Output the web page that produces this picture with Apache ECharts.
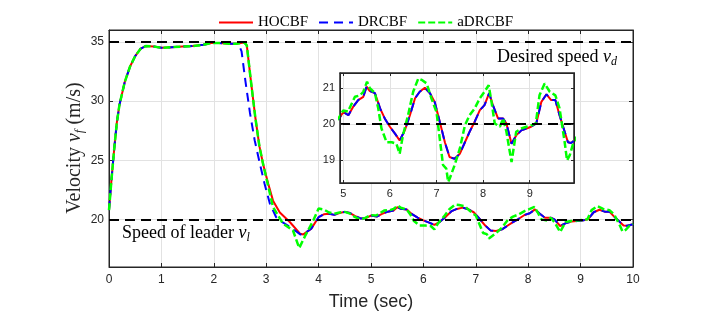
<!DOCTYPE html>
<html><head><meta charset="utf-8">
<script src="https://cdn.jsdelivr.net/npm/echarts@6/dist/echarts.min.js"></script>
<style>html,body{margin:0;padding:0;background:#fff}#c{width:718px;height:319px}</style>
</head><body><div id="c"></div>
<script>
// ---- data (time in s, velocity in m/s) ----
const seriesNames = ['HOCBF', 'DRCBF', 'aDRCBF'];
const desiredSpeed = 35;
const leaderSpeed = 20;
const mainXTicks = [0,1,2,3,4,5,6,7,8,9,10];
const mainYTicks = [20,25,30,35];
const insetXTicks = [5,6,7,8,9];
const insetYTicks = [19,20,21];

const hocbfStart = [[0,20.8],[0.05,23.5],[0.1,26.0],[0.15,28.2],[0.2,29.7],[0.3,31.6],[0.4,32.9],[0.5,33.8],[0.6,34.4],[0.7,34.65],[0.85,34.6],[1.0,34.5],[1.2,34.55],[1.4,34.6],[1.6,34.65],[1.8,34.75],[1.95,34.9],[2.1,34.9],[2.3,34.85]];
const hocbfDrop = [[2.45,34.85],[2.58,34.95],[2.63,34.7],[2.7,32.0],[2.79,28.7],[2.87,26.2],[2.94,24.7],[3.04,23.0],[3.13,21.6],[3.26,20.6],[3.45,19.8],[3.65,18.8],[3.71,18.75]];
const drcbfDrop = [[2.4,34.85],[2.47,34.8],[2.53,34.2],[2.6,31.8],[2.69,29.0],[2.78,26.7],[2.88,24.7],[2.97,23.0],[3.07,21.35],[3.19,20.2],[3.3,19.8],[3.45,19.4],[3.65,18.75],[3.71,18.75]];
const hocbfTail = [[3.86,19.24],[4.0,20.2],[4.1,20.45],[4.2,20.5],[4.3,20.4],[4.4,20.55],[4.5,20.65],[4.6,20.55],[4.7,20.3],[4.8,20.1],[4.89,20.11],[5.0,20.34],[5.11,20.25],[5.21,20.48],[5.32,20.67],[5.43,20.76],[5.5,21.04],[5.57,20.92],[5.68,20.86],[5.79,20.44],[5.89,20.16],[6.0,19.93],[6.11,19.74],[6.21,19.55],[6.32,19.83],[6.43,20.25],[6.54,20.72],[6.64,20.9],[6.75,21.01],[6.86,20.86],[6.96,20.62],[7.07,20.07],[7.18,19.5],[7.28,19.09],[7.39,19.04],[7.5,19.18],[7.61,19.5],[7.71,19.79],[7.82,20.07],[7.93,20.39],[8.03,20.53],[8.13,20.86],[8.21,20.53],[8.32,20.16],[8.43,20.16],[8.5,20.02],[8.61,19.46],[8.71,19.69],[8.82,19.83],[8.93,19.88],[9.03,19.93],[9.14,20.02],[9.25,20.62],[9.36,20.83],[9.46,20.67],[9.55,20.67],[9.64,20.25],[9.75,19.79],[9.82,19.5],[9.89,19.48],[10.0,19.6]];
const adrcbfTail = [[3.04,22.8],[3.13,21.06],[3.32,19.66],[3.51,19.1],[3.63,17.6],[3.74,18.6],[3.9,19.94],[4.0,20.93],[4.1,20.85],[4.2,20.6],[4.3,20.5],[4.4,20.6],[4.5,20.65],[4.6,20.5],[4.7,20.2],[4.8,20.0],[4.89,20.15],[5.0,20.38],[5.1,20.35],[5.25,20.76],[5.36,20.8],[5.43,20.9],[5.51,21.18],[5.57,21.0],[5.68,20.86],[5.75,20.44],[5.82,19.88],[5.93,19.5],[6.04,19.5],[6.14,19.46],[6.21,19.18],[6.28,19.69],[6.39,20.25],[6.5,20.9],[6.61,21.27],[6.68,21.23],[6.79,21.13],[6.89,20.72],[7.0,20.34],[7.07,19.6],[7.14,18.87],[7.21,18.77],[7.25,18.4],[7.28,18.48],[7.39,18.87],[7.5,19.32],[7.61,19.97],[7.71,20.25],[7.82,20.44],[7.93,20.72],[8.03,20.9],[8.12,21.08],[8.18,20.62],[8.25,20.02],[8.36,19.93],[8.43,20.16],[8.5,19.79],[8.61,18.95],[8.71,19.79],[8.82,19.88],[8.93,19.93],[9.03,19.97],[9.13,20.02],[9.21,20.8],[9.32,21.13],[9.43,20.9],[9.55,20.8],[9.64,20.44],[9.75,19.5],[9.8,19.0],[9.86,19.14],[9.93,19.46],[10.0,19.65]];

const hocbf = hocbfStart.concat(hocbfDrop, hocbfTail);
const drcbf = hocbfStart.concat(drcbfDrop, hocbfTail);
const adrcbf = hocbfStart.concat(hocbfDrop.filter(p => p[0] <= 2.94), adrcbfTail);

// ---- chart ----
const axisColor = '#262626';
const gridColor = '#e2e2e2';
const sans = 'Liberation Sans';
const serif = 'Liberation Serif';

const chart = echarts.init(document.getElementById('c'), null, {renderer: 'canvas'});

function gridMarks(xt, yt, z) {
  return {
    symbol: 'none', silent: true, z: z, animation: false,
    label: {show: false},
    lineStyle: {color: gridColor, width: 1, type: 'solid'},
    data: xt.map(v => ({xAxis: v})).concat(yt.map(v => ({yAxis: v})))
  };
}
function refMarks(vals, z) {
  return {
    symbol: 'none', silent: true, z: z, animation: false,
    label: {show: false},
    lineStyle: {color: '#000', width: 2, type: [10, 6]},
    data: vals.map(v => ({yAxis: v}))
  };
}
const styles = [
  {color: '#ff0000', width: 2, type: 'solid'},
  {color: '#0000ff', width: 2, type: [9, 6]},
  {color: '#00ff00', width: 2.5, type: [7, 3]}
];
const datas = [hocbf, drcbf, adrcbf];

function makeAxisPair(gridIndex, min, max, ticks, fontSize, showLabel, pos, z, margin, tickLen) {
  return {
    type: 'value', gridIndex, min, max, position: pos, z,
    axisLine: {show: true, onZero: false, lineStyle: {color: axisColor, width: 1}},
    axisTick: {show: true, inside: true, length: tickLen, customValues: ticks, lineStyle: {color: axisColor, width: 1}},
    axisLabel: {show: showLabel, customValues: ticks, color: axisColor, fontFamily: sans, fontSize, margin},
    splitLine: {show: false}
  };
}

const series = [];
series.push({type: 'line', name: 'gridMain', data: [], xAxisIndex: 0, yAxisIndex: 0, z: 1, silent: true,
  markLine: gridMarks(mainXTicks, mainYTicks, 1)});
datas.forEach((d, i) => {
  series.push({type: 'line', name: seriesNames[i], data: d, xAxisIndex: 0, yAxisIndex: 0,
    symbol: 'none', z: 2 + i, lineStyle: styles[i], itemStyle: {color: styles[i].color}, clip: true, animation: false});
});
series.push({type: 'line', name: 'refMain', data: [], xAxisIndex: 0, yAxisIndex: 0, z: 6, silent: true,
  markLine: refMarks([desiredSpeed, leaderSpeed], 6)});
series.push({type: 'line', name: 'gridInset', data: [], xAxisIndex: 2, yAxisIndex: 2, z: 11, silent: true,
  markLine: gridMarks(insetXTicks, insetYTicks, 11)});
datas.forEach((d, i) => {
  series.push({type: 'line', name: seriesNames[i], data: d, xAxisIndex: 2, yAxisIndex: 2,
    symbol: 'none', z: 12 + i, lineStyle: styles[i], itemStyle: {color: styles[i].color}, clip: true, animation: false});
});
series.push({type: 'line', name: 'refInset', data: [], xAxisIndex: 2, yAxisIndex: 2, z: 16, silent: true,
  markLine: refMarks([leaderSpeed], 16)});

function richLabel(size, subSize, color) {
  return {
    n: {fontFamily: serif, fontSize: size, fill: color},
    i: {fontFamily: serif, fontStyle: 'italic', fontSize: size, fill: color},
    s: {fontFamily: serif, fontStyle: 'italic', fontSize: subSize, fill: color, padding: [9, 0, 0, 0]}
  };
}

const option = {
  animation: false,
  backgroundColor: '#fff',
  legend: {
    data: seriesNames, top: 10, left: 213, itemWidth: 34, itemHeight: 14, itemGap: 10,
    itemStyle: {opacity: 0},
    textStyle: {fontFamily: serif, fontSize: 15, color: '#000'}
  },
  grid: [
    {left: 109, top: 30, width: 524, height: 237, show: true, backgroundColor: '#fff', borderColor: axisColor, borderWidth: 1, z: 0},
    {left: 340, top: 73, width: 234, height: 110, show: true, backgroundColor: '#fff', borderColor: axisColor, borderWidth: 1.5, z: 10}
  ],
  xAxis: [
    Object.assign(makeAxisPair(0, 0, 10, mainXTicks, 12, true, 'bottom', 3, 7, 4), {
      name: 'Time (sec)', nameLocation: 'middle', nameGap: 26,
      nameTextStyle: {fontFamily: sans, fontSize: 18, color: axisColor}
    }),
    makeAxisPair(0, 0, 10, mainXTicks, 12, false, 'top', 3, 7, 4),
    makeAxisPair(1, 4.93, 9.95, insetXTicks, 11, true, 'bottom', 17, 5, 3),
    makeAxisPair(1, 4.93, 9.95, insetXTicks, 11, false, 'top', 17, 5, 3)
  ],
  yAxis: [
    makeAxisPair(0, 16, 36, mainYTicks, 12, true, 'left', 3, 5, 4),
    makeAxisPair(0, 16, 36, mainYTicks, 12, false, 'right', 3, 5, 4),
    makeAxisPair(1, 18.37, 21.42, insetYTicks, 11, true, 'left', 17, 5, 3),
    makeAxisPair(1, 18.37, 21.42, insetYTicks, 11, false, 'right', 17, 5, 3)
  ],
  graphic: [
    {type: 'text', x: 75, y: 148, rotation: Math.PI / 2, z: 50,
      style: {text: '{n|Velocity }{i|v}{s|f}{n| (m/s)}', align: 'center', verticalAlign: 'middle',
        rich: richLabel(20, 13, '#262626')}},
    {type: 'text', x: 497, y: 57, z: 50,
      style: {text: '{n|Desired speed }{i|v}{s|d}', align: 'left', verticalAlign: 'middle',
        rich: richLabel(18, 12, '#000')}},
    {type: 'text', x: 122, y: 233, z: 50,
      style: {text: '{n|Speed of leader }{i|v}{s|l}', align: 'left', verticalAlign: 'middle',
        rich: richLabel(18, 12, '#000')}}
  ],
  series
};
chart.setOption(option);
</script>
</body></html>
